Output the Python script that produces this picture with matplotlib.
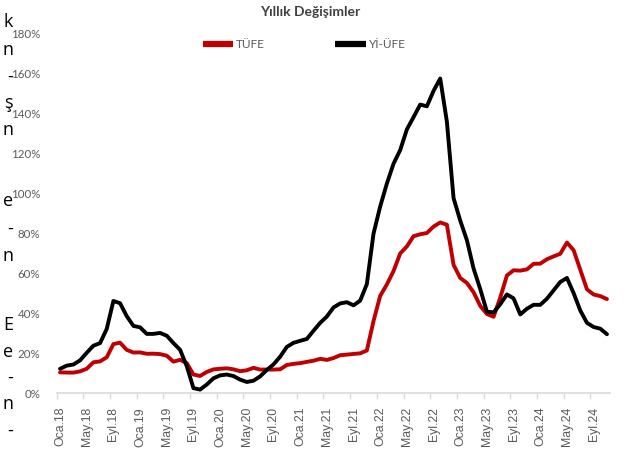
import matplotlib
matplotlib.use("Agg")
import matplotlib.pyplot as plt
import numpy as np

months_tr = ["Oca", "Şub", "Mar", "Nis", "May", "Haz", "Tem", "Ağu", "Eyl", "Eki", "Kas", "Ara"]
dates = [f"{months_tr[m]}.{y}" for y in range(18, 25) for m in range(12)][:83]

tufe = [10.35, 10.26, 10.23, 10.85, 12.15, 15.39, 15.85, 17.90, 24.52, 25.24, 21.62, 20.30,
        20.35, 19.67, 19.71, 19.50, 18.71, 15.72, 16.65, 15.01, 9.26, 8.55, 10.56, 11.84,
        12.15, 12.37, 11.86, 10.94, 11.39, 12.62, 11.76, 11.77, 11.75, 11.89, 14.03, 14.60,
        14.97, 15.61, 16.19, 17.14, 16.59, 17.53, 18.95, 19.25, 19.58, 19.89, 21.31, 36.08,
        48.69, 54.44, 61.14, 69.97, 73.50, 78.62, 79.60, 80.21, 83.45, 85.51, 84.39, 64.27,
        57.68, 55.18, 50.51, 43.68, 39.59, 38.21, 47.83, 58.94, 61.53, 61.36, 61.98, 64.77,
        64.86, 67.07, 68.50, 69.80, 75.45, 71.60, 61.78, 51.97, 49.38, 48.58, 47.09]

yiufe = [12.14, 13.71, 14.28, 16.37, 20.16, 23.71, 25.00, 32.13, 46.15, 45.01, 38.54, 33.64,
         32.93, 29.64, 29.64, 30.12, 28.71, 25.04, 21.66, 13.45, 2.45, 1.70, 4.26, 7.36,
         8.84, 9.26, 8.50, 6.71, 5.53, 6.17, 8.33, 11.53, 14.33, 18.20, 23.11, 25.15,
         26.16, 27.09, 31.20, 35.17, 38.33, 42.89, 44.92, 45.52, 43.96, 46.31, 54.62, 79.89,
         93.53, 105.01, 114.97, 121.82, 132.16, 138.31, 144.61, 143.75, 151.50, 157.69, 136.02, 97.72,
         86.46, 76.61, 62.43, 52.11, 40.76, 40.42, 44.50, 49.41, 47.44, 39.39, 42.25, 44.22,
         44.20, 47.29, 51.47, 55.66, 57.68, 50.09, 41.37, 35.17, 33.09, 32.24, 29.47]

series_names = ["TÜFE", "Yİ-ÜFE"]
yticks = list(range(0, 181, 20))
side_fragments = ["k", "n", "-", "ş", "n", "e", "-", "n", "E", "e", "-", "n", "-"]
side_y_px = [22, 50, 77, 103, 130, 201, 229, 256, 325, 352, 378, 404, 431]

W, H = 632, 462
fig = plt.figure(figsize=(W / 100, H / 100), dpi=100)
ax = fig.add_axes([56.7 / W, 1 - 393 / H, (610.3 - 56.7) / W, (393 - 34) / H])

x = np.arange(len(dates))
ax.plot(x, tufe, color="#C00000", lw=2.8, solid_capstyle="round", solid_joinstyle="round", label=series_names[0])
ax.plot(x, yiufe, color="#000000", lw=2.8, solid_capstyle="round", solid_joinstyle="round", label=series_names[1])

ax.set_xlim(-0.5, len(dates) - 0.5)
ax.set_ylim(0, 180)

ui_font = ["Lato", "DejaVu Sans"]
ax.set_yticks(yticks)
ax.set_yticklabels([f"{v}%" for v in yticks], family=ui_font, fontsize=8.3, color="#595959")
ax.tick_params(axis="y", length=0, pad=12)

lab_idx = list(range(0, len(dates), 4))
ax.set_xticks(lab_idx)
ax.set_xticklabels([dates[i] for i in lab_idx], rotation=90, family=["Liberation Sans", "DejaVu Sans"],
                   fontsize=8.8, color="#595959")
ax.tick_params(axis="x", length=0, pad=10)
ax.set_xticks([i - 0.5 for i in lab_idx], minor=True)
ax.tick_params(axis="x", which="minor", length=4, color="#d9d9d9", width=1)

for s in ["top", "right", "left"]:
    ax.spines[s].set_visible(False)
ax.spines["bottom"].set_color("#d9d9d9")
ax.spines["bottom"].set_linewidth(1.2)

fig.text(310 / W, 1 - 12 / H, "Yıllık Değişimler", ha="center", va="center", family=ui_font,
         fontweight="bold", fontsize=10, color="#404040")

leg = fig.legend(loc="center", bbox_to_anchor=(304 / W, 1 - 45 / H), ncol=2, frameon=False,
                 handlelength=2.6, handletextpad=0.2, columnspacing=6.0,
                 prop={"family": ui_font, "size": 8.5})
for t in leg.get_texts():
    t.set_color("#595959")
for lh in leg.get_lines():
    lh.set_linewidth(4.5)
    lh.set_solid_capstyle("butt")

for ch, yp in zip(side_fragments, side_y_px):
    fig.text(13 / W, 1 - yp / H, ch, ha="right", va="center", fontsize=13, color="#000000",
             family=["Open Sans", "DejaVu Sans"])

fig.savefig("out.png", dpi=100)
